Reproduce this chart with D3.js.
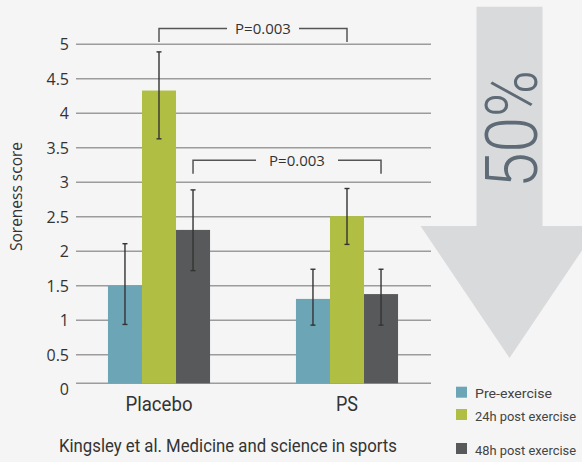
<!DOCTYPE html>
<html>
<head>
<meta charset="utf-8">
<script src="https://cdn.jsdelivr.net/npm/d3@7"></script>
<style>
  html, body { margin: 0; padding: 0; background: #f5f5f5; }
  svg { display: block; }
</style>
</head>
<body>
<svg width="582" height="462"></svg>
<script>
// data
var groups = ["Placebo", "PS"];
var series = ["Pre-exercise", "24h post exercise", "48h post exercise"];
var placeboMean = [1.5, 4.33, 2.31];
var placeboHigh = [2.11, 4.89, 2.89];
var placeboLow = [0.94, 3.63, 1.72];
var psMean = [1.31, 2.51, 1.38];
var psHigh = [1.74, 2.91, 1.74];
var psLow = [0.93, 2.10, 0.93];
var yTicks = [0, 0.5, 1, 1.5, 2, 2.5, 3, 3.5, 4, 4.5, 5];
var pLabels = ["P=0.003", "P=0.003"];
var pSeries = ["24h post exercise", "48h post exercise"];
var pLevels = [5.23, 3.32];
var reduction = "50%";
var source = "Kingsley et al. Medicine and science in sports";

var colors = ["#6ba5b6", "#b0bf44", "#58595b"];

var svg = d3.select("svg");

var x = d3.scaleBand().domain(groups).range([65, 441]).paddingInner(0.457).paddingOuter(0.2285);
var xs = d3.scaleBand().domain(series).range([0, x.bandwidth()]);
var y = d3.scaleLinear().domain([0, 5]).range([389.3, 44.3]);
var color = d3.scaleOrdinal().domain(series).range(colors);
var baseY = y(0) - 6; // axis line sits a little above the zero label

var rows = [];
groups.forEach(function(g, gi) {
  var m = gi == 0 ? placeboMean : psMean,
      hi = gi == 0 ? placeboHigh : psHigh,
      lo = gi == 0 ? placeboLow : psLow;
  series.forEach(function(s, si) {
    rows.push({ group: g, series: s, value: m[si], high: hi[si], low: lo[si] });
  });
});

// big arrow in the background
var ax = 509.5;
var arrow = d3.path();
arrow.moveTo(ax - 33, 6.7);
arrow.lineTo(ax + 33, 6.7);
arrow.lineTo(ax + 33, 226);
arrow.lineTo(ax + 89, 226);
arrow.lineTo(ax, 358);
arrow.lineTo(ax - 89, 226);
arrow.lineTo(ax - 33, 226);
arrow.closePath();
svg.append("path").attr("d", arrow.toString()).attr("fill", "#d9dadc");

svg.append("text")
  .attr("transform", "translate(537,129) rotate(-90)")
  .attr("text-anchor", "middle")
  .attr("font-family", "Roboto")
  .attr("font-weight", 300)
  .attr("font-size", 72)
  .attr("textLength", 118)
  .attr("lengthAdjust", "spacingAndGlyphs")
  .attr("fill", "#5e6b77")
  .text(reduction);

// gridlines
svg.selectAll(".grid")
  .data(yTicks.filter(function(d) { return d > 0; }))
  .enter().append("line")
  .attr("x1", 76).attr("x2", 431)
  .attr("y1", function(d) { return y(d); })
  .attr("y2", function(d) { return y(d); })
  .attr("stroke", "#9c9c9c")
  .attr("stroke-width", 1.6);

svg.append("line")
  .attr("x1", 76).attr("x2", 431)
  .attr("y1", baseY).attr("y2", baseY)
  .attr("stroke", "#9c9c9c")
  .attr("stroke-width", 1.6);

// y tick labels
svg.selectAll(".ytick")
  .data(yTicks)
  .enter().append("text")
  .attr("x", 69)
  .attr("y", function(d) { return y(d); })
  .attr("dy", "0.36em")
  .attr("text-anchor", "end")
  .attr("font-family", "Open Sans")
  .attr("font-size", 16)
  .attr("fill", "#333")
  .text(function(d) { return d; });

svg.append("text")
  .attr("transform", "translate(22," + 196.5 + ") rotate(-90)")
  .attr("text-anchor", "middle")
  .attr("font-family", "Open Sans")
  .attr("font-size", 15.5)
  .attr("fill", "#333")
  .text("Soreness score");

// bars
svg.selectAll(".bar")
  .data(rows)
  .enter().append("rect")
  .attr("x", function(d) { return x(d.group) + xs(d.series); })
  .attr("y", function(d) { return y(d.value); })
  .attr("width", xs.bandwidth())
  .attr("height", function(d) { return baseY - y(d.value); })
  .attr("fill", function(d) { return color(d.series); });

// error bars
var eb = svg.selectAll(".err").data(rows).enter().append("g")
  .attr("stroke", "#333").attr("stroke-width", 1.4);
eb.append("line")
  .attr("x1", function(d) { return x(d.group) + xs(d.series) + xs.bandwidth() / 2; })
  .attr("x2", function(d) { return x(d.group) + xs(d.series) + xs.bandwidth() / 2; })
  .attr("y1", function(d) { return y(d.high); })
  .attr("y2", function(d) { return y(d.low); });
["high", "low"].forEach(function(k) {
  eb.append("line")
    .attr("x1", function(d) { return x(d.group) + xs(d.series) + xs.bandwidth() / 2 - 2.5; })
    .attr("x2", function(d) { return x(d.group) + xs(d.series) + xs.bandwidth() / 2 + 2.5; })
    .attr("y1", function(d) { return y(d[k]); })
    .attr("y2", function(d) { return y(d[k]); });
});

// significance brackets
pLabels.forEach(function(lbl, i) {
  var x1 = x(groups[0]) + xs(pSeries[i]) + xs.bandwidth() / 2,
      x2 = x(groups[1]) + xs(pSeries[i]) + xs.bandwidth() / 2,
      yy = y(pLevels[i]),
      mid = (x1 + x2) / 2 + 10,
      gap = 36 + i * 5;
  var g = svg.append("g").attr("stroke", "#555").attr("stroke-width", 1.5).attr("fill", "none");
  g.append("path").attr("d", "M" + x1 + "," + (yy + 13.5) + "V" + yy + "H" + (mid - gap));
  g.append("path").attr("d", "M" + (mid + gap) + "," + yy + "H" + x2 + "V" + (yy + 13.5));
  svg.append("text")
    .attr("x", mid).attr("y", yy).attr("dy", "0.36em")
    .attr("text-anchor", "middle")
    .attr("font-family", "Open Sans")
    .attr("font-size", 15)
    .attr("fill", "#333")
    .text(lbl);
});

// x labels
svg.selectAll(".xlab")
  .data(groups)
  .enter().append("text")
  .attr("x", function(d) { return x(d) + x.bandwidth() / 2; })
  .attr("y", 410.7)
  .attr("text-anchor", "middle")
  .attr("font-family", "Roboto")
  .attr("font-size", 20)
  .attr("textLength", function(d) { return d == "PS" ? 22 : 67; })
  .attr("lengthAdjust", "spacingAndGlyphs")
  .attr("fill", "#333")
  .text(function(d) { return d; });

svg.append("text")
  .attr("x", 59).attr("y", 451.5)
  .attr("font-family", "Roboto")
  .attr("font-size", 18.5)
  .attr("textLength", 338)
  .attr("lengthAdjust", "spacingAndGlyphs")
  .attr("fill", "#333")
  .text(source);

// legend
var legY = [386.7, 409, 443];
var leg = svg.selectAll(".leg").data(series).enter().append("g")
  .attr("transform", function(d, i) { return "translate(456," + legY[i] + ")"; });
leg.append("rect").attr("width", 11).attr("height", 11)
  .attr("fill", function(d) { return color(d); });
leg.append("text")
  .attr("x", 19).attr("y", 11.5)
  .attr("font-family", "Roboto")
  .attr("font-size", 13.5)
  .attr("textLength", function(d, i) { return i == 0 ? 77 : 101; })
  .attr("lengthAdjust", "spacingAndGlyphs")
  .attr("fill", "#444")
  .text(function(d) { return d; });
</script>
</body>
</html>
